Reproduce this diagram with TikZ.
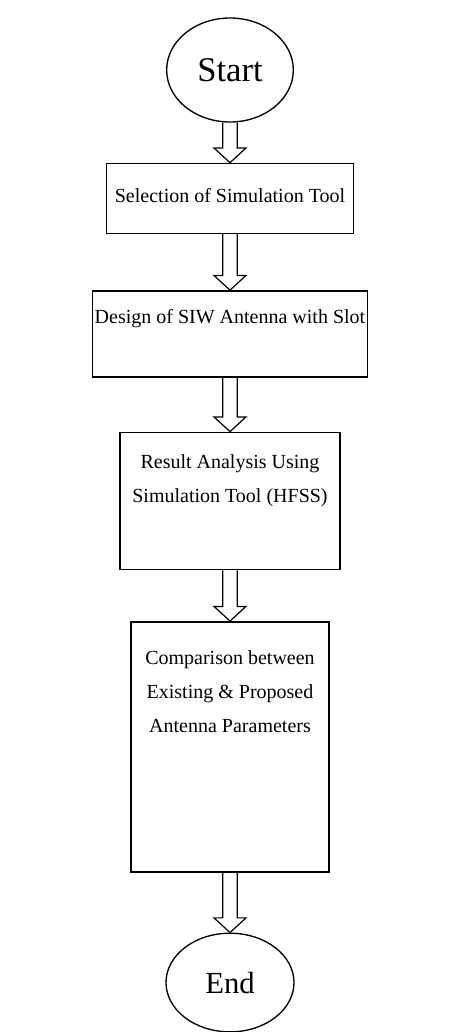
\documentclass[tikz,border=0pt]{standalone}
\usepackage{fontspec}
\setmainfont{Liberation Serif}
\usetikzlibrary{positioning,shapes.geometric,calc}

\tikzset{
  terminal/.style={draw,ellipse,line width=1pt,inner sep=0pt},
  stepbox/.style={draw,rectangle,line width=1.1pt,inner sep=0pt},
  steptext/.style={align=center,inner sep=0pt,font=\fontsize{15}{25.5}\selectfont},
  arrowline/.style={line width=0.9pt,line join=miter}
}

% hollow block arrow from the bottom of one node to the top of the next
\newcommand{\hollowarrow}[2]{%
  \draw[arrowline] let \p1=(#1.south), \p2=(#2.north) in
    (\x1-5.5pt,\y1) -- (\x1-5.5pt,\y2+11pt) -- (\x1-12pt,\y2+11pt) -- (\x1,\y2)
    -- (\x1+12pt,\y2+11pt) -- (\x1+5.5pt,\y2+11pt) -- (\x1+5.5pt,\y1);}

\begin{document}
\begin{tikzpicture}
\useasboundingbox (0,0) rectangle (340.5pt,-774pt);

\node[terminal,minimum width=95pt,minimum height=78pt,font=\fontsize{26}{30}\selectfont] (start) at (172.5pt,-52.5pt) {Start};

\node[stepbox,minimum width=185pt,minimum height=52.5pt] (tool) [below=30pt of start] {};
\node[steptext] (tool-txt) [below=19pt of tool.north] {Selection of Simulation Tool};

\node[stepbox,minimum width=206pt,minimum height=64.5pt] (design) [below=42pt of tool] {};
\node[steptext] (design-txt) [below=14pt of design.north] {Design of SIW Antenna with Slot};

\node[stepbox,minimum width=165pt,minimum height=103pt] (analysis) [below=40.5pt of design] {};
\node[steptext] (analysis-txt) [below=17pt of analysis.north] {Result Analysis Using\\Simulation Tool (HFSS)};

\node[stepbox,minimum width=148.5pt,minimum height=187.5pt] (compare) [below=38pt of analysis] {};
\node[steptext] (compare-txt) [below=22pt of compare.north] {Comparison between\\Existing \& Proposed\\Antenna Parameters};

\node[terminal,minimum width=96pt,minimum height=74pt,font=\fontsize{23}{27}\selectfont] (end) [below=45pt of compare] {End};

\hollowarrow{start}{tool}
\hollowarrow{tool}{design}
\hollowarrow{design}{analysis}
\hollowarrow{analysis}{compare}
\hollowarrow{compare}{end}

\end{tikzpicture}
\end{document}
